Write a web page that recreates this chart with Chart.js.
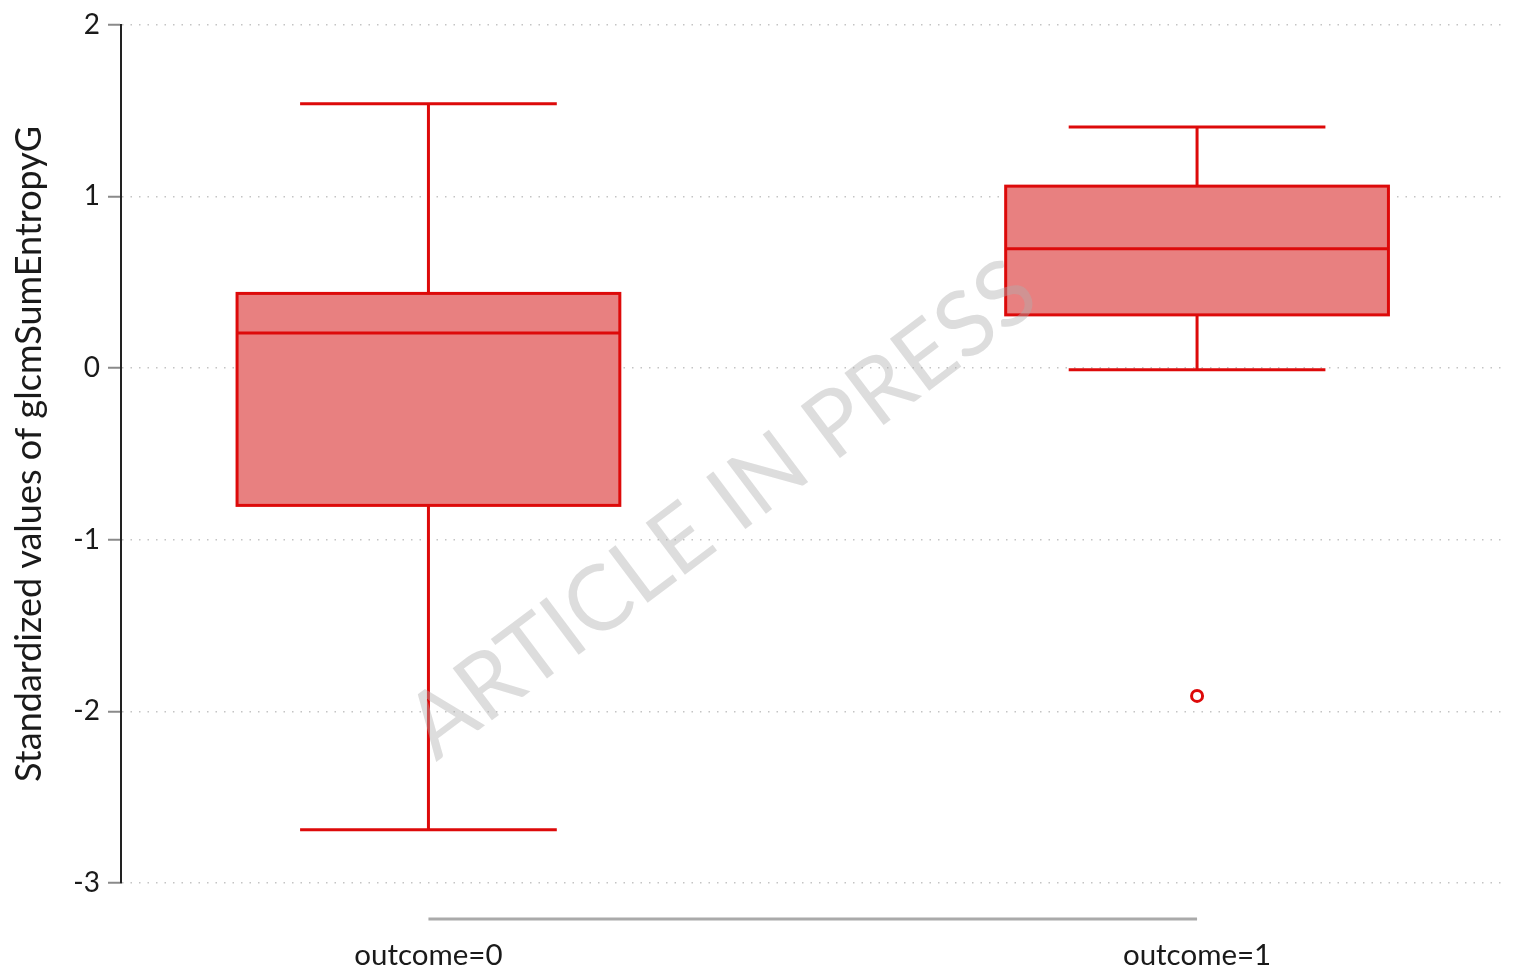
<!DOCTYPE html>
<html>
<head>
<meta charset="utf-8">
<script src="https://cdn.jsdelivr.net/npm/chart.js@4.4.1/dist/chart.umd.min.js"></script>
<style>
  html, body { margin: 0; padding: 0; background: #fff; }
  #wrap { width: 1513px; height: 974px; }
</style>
</head>
<body>
<div id="wrap"><canvas id="boxChart"></canvas></div>
<script>
// box plot stats
const categories = ['outcome=0', 'outcome=1'];
const whiskerLow = [-2.69, -0.01];
const q1 = [-0.80, 0.31];
const median = [0.205, 0.695];
const q3 = [0.435, 1.06];
const whiskerHigh = [1.54, 1.405];
const outlierX = [1];
const outlierY = [-1.91];
const yTicks = [-3, -2, -1, 0, 1, 2];

const RED = '#dd0a0a';
const BOX_FILL = '#e88080';
const FONT = 'Lato, "Open Sans", sans-serif';

// draws boxes + whiskers using the chart's own scales
const boxPlugin = {
    id: 'boxes',
    beforeDatasetsDraw(chart) {
        const { ctx, scales: { x, y } } = chart;
        ctx.save();
        ctx.strokeStyle = RED;
        categories.forEach((c, i) => {
            const cx = x.getPixelForValue(i);
            const bl = x.getPixelForValue(i - 0.249), br = x.getPixelForValue(i + 0.249);
            const cl = x.getPixelForValue(i - 0.167), cr = x.getPixelForValue(i + 0.167);
            const yLo = y.getPixelForValue(whiskerLow[i]), yHi = y.getPixelForValue(whiskerHigh[i]);
            const yQ1 = y.getPixelForValue(q1[i]), yQ3 = y.getPixelForValue(q3[i]);
            const yMed = y.getPixelForValue(median[i]);

            ctx.lineWidth = 3;
            ctx.beginPath();
            ctx.moveTo(cx, yQ3); ctx.lineTo(cx, yHi);
            ctx.moveTo(cx, yQ1); ctx.lineTo(cx, yLo);
            ctx.moveTo(cl, yHi); ctx.lineTo(cr, yHi);
            ctx.moveTo(cl, yLo); ctx.lineTo(cr, yLo);
            ctx.stroke();

            ctx.fillStyle = BOX_FILL;
            ctx.fillRect(bl, yQ3, br - bl, yQ1 - yQ3);
            ctx.lineWidth = 3;
            ctx.strokeRect(bl, yQ3, br - bl, yQ1 - yQ3);
            ctx.beginPath();
            ctx.moveTo(bl, yMed); ctx.lineTo(br, yMed);
            ctx.stroke();
        });
        ctx.restore();
    },
    afterDraw(chart) {
        const { ctx, chartArea, scales: { x } } = chart;
        ctx.save();
        // base-R style x axis line between first and last category
        ctx.strokeStyle = '#aaaaaa';
        ctx.lineWidth = 3;
        ctx.beginPath();
        ctx.moveTo(x.getPixelForValue(0), chartArea.bottom + 36);
        ctx.lineTo(x.getPixelForValue(categories.length - 1), chartArea.bottom + 36);
        ctx.stroke();

        // watermark
        ctx.translate(722, 510);
        ctx.rotate(-37 * Math.PI / 180);
        ctx.font = '91px ' + FONT;
        ctx.fillStyle = 'rgba(175,175,175,0.42)';
        ctx.textAlign = 'center';
        ctx.textBaseline = 'middle';
        ctx.fillText('ARTICLE IN PRESS', 0, 0);
        ctx.restore();
    }
};

new Chart(document.getElementById('boxChart'), {
    type: 'scatter',
    data: {
        datasets: [{
            label: 'outliers',
            data: outlierX.map((v, i) => ({ x: v, y: outlierY[i] })),
            pointRadius: 5.5,
            pointBorderWidth: 3,
            borderColor: RED,
            backgroundColor: '#ffffff'
        }]
    },
    options: {
        responsive: true,
        maintainAspectRatio: false,
        animation: false,
        layout: { padding: { top: 24, right: 8, left: 0, bottom: 0 } },
        plugins: { legend: { display: false }, tooltip: { enabled: false } },
        scales: {
            x: {
                type: 'linear',
                min: -0.4, max: 1.4,
                afterBuildTicks: s => { s.ticks = categories.map((c, i) => ({ value: i })); },
                afterFit: s => { s.height = 91; },
                ticks: {
                    callback: v => categories[v],
                    font: { family: FONT, size: 29.5 },
                    color: '#1a1a1a',
                    padding: 55
                },
                grid: { display: false, drawTicks: false },
                border: { display: false }
            },
            y: {
                min: -3, max: 2,
                afterBuildTicks: s => { s.ticks = yTicks.map(v => ({ value: v })); },
                afterFit: s => { s.width = 121; },
                ticks: {
                    font: { family: FONT, size: 28 },
                    color: '#1a1a1a',
                    padding: 8
                },
                grid: {
                    color: '#c4c4c4',
                    lineWidth: 1.5,
                    tickColor: '#8a8a8a',
                    tickLength: 13,
                    tickWidth: 2,
                    tickBorderDash: []
                },
                border: { display: true, color: '#222', width: 2, dash: [1.5, 7] },
                title: {
                    display: true,
                    text: 'Standardized values of glcmSumEntropyG',
                    font: { family: FONT, size: 36 },
                    color: '#1a1a1a',
                    padding: { top: 8, bottom: 0 }
                }
            }
        }
    },
    plugins: [boxPlugin]
});
</script>
</body>
</html>
